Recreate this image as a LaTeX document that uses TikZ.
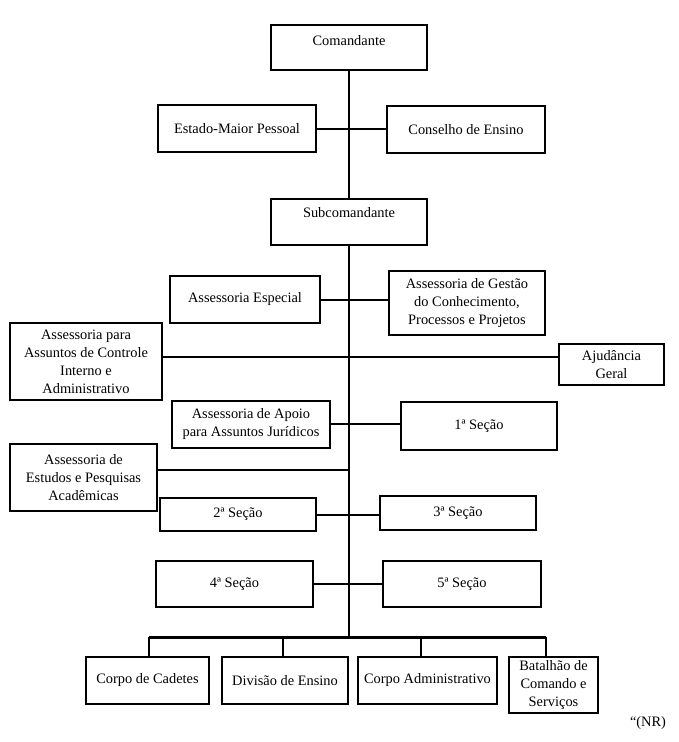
\documentclass[tikz,border=0pt]{standalone}
\usepackage{fontspec}
\setmainfont{Liberation Serif}
\tikzset{
  orgbox/.style={draw, line width=1.8pt, inner sep=1pt, align=center,
    font=\fontsize{14.4}{18}\selectfont},
  trunkline/.style={line width=2.8pt},
  branchline/.style={line width=2.3pt},
  busline/.style={line width=3pt},
  plaintext/.style={inner sep=0pt, font=\fontsize{14.4}{18}\selectfont},
}
\newcommand{\orgbox}[6]{\node[orgbox, minimum width={#4-#2}, minimum height={#5-#3}] (#1) at ({(#2+#4)/2},{(#3+#5)/2}) {#6};}
\begin{document}
\begin{tikzpicture}[x=1pt, y=-1pt]
\useasboundingbox (0,0) rectangle (679,742);
% boxes
\orgbox{cmd}{271}{25}{427}{70}{Comandante\\[-9pt] \strut}
\orgbox{emp}{158}{105}{316}{152}{Estado-Maior Pessoal}
\orgbox{ce}{387}{106}{545}{153}{Conselho de Ensino}
\orgbox{sub}{271}{199}{427}{245}{Subcomandante\\[-4pt] \strut}
\orgbox{ae}{170}{276}{320}{323}{Assessoria Especial}
\orgbox{agc}{389}{271}{545}{335}{Assessoria de Gestão\\do Conhecimento,\\Processos e Projetos}
\orgbox{aci}{10}{323}{162}{400}{Assessoria para\\Assuntos de Controle\\Interno e\\Administrativo}
\orgbox{ag}{559}{344}{664}{385}{Ajudância\\Geral}
\orgbox{aaj}{172}{401}{330}{448}{Assessoria de Apoio\\para Assuntos Jurídicos}
\orgbox{s1}{401}{402}{557}{450}{1ª Seção}
\orgbox{aep}{10}{444}{157}{511}{Assessoria de\\Estudos e Pesquisas\\Acadêmicas}
\orgbox{s2}{160}{498}{316}{531}{2ª Seção}
\orgbox{s3}{380}{496}{536}{530}{3ª Seção}
\orgbox{s4}{156}{561}{313}{607}{4ª Seção}
\orgbox{s5}{383}{561}{541}{607}{5ª Seção}
\orgbox{ccad}{86}{657}{209}{704}{Corpo de Cadetes}
\orgbox{div}{222}{657}{348}{704}{Divisão de Ensino}
\orgbox{cadm}{358}{657}{497}{704}{Corpo Administrativo}
\orgbox{bat}{509}{657}{598}{713}{Batalhão de\\Comando e\\Serviços}
\node[plaintext] (nr) at (648,723) {“(NR)};
% junctions on the trunk
\coordinate (j1) at (349,129);
\coordinate (j2) at (349,300);
\coordinate (j3) at (349,357);
\coordinate (j4) at (349,424);
\coordinate (j5) at (349,470);
\coordinate (j6) at (349,515);
\coordinate (j7) at (349,584);
\coordinate (bus) at (349,637);
\coordinate (d1) at (149,637);
\coordinate (d2) at (283,637);
\coordinate (d3) at (421,637);
\coordinate (d4) at (546,637);
% trunk
\draw[trunkline] (cmd.south) -- (sub.north);
\draw[trunkline] (sub.south) -- (bus);
% branches
\draw[branchline] (j1 -| emp.east) -- (j1 -| ce.west);
\draw[branchline] (j2 -| ae.east) -- (j2 -| agc.west);
\draw[branchline] (j3 -| aci.east) -- (j3 -| ag.west);
\draw[branchline] (j4 -| aaj.east) -- (j4 -| s1.west);
\draw[branchline] (j5 -| aep.east) -- (j5);
\draw[branchline] (j6 -| s2.east) -- (j6 -| s3.west);
\draw[branchline] (j7 -| s4.east) -- (j7 -| s5.west);
% bottom bus
\draw[busline] (d1) -- (d4);
\draw[branchline] (d1) -- (d1 |- ccad.north);
\draw[branchline] (d2) -- (d2 |- div.north);
\draw[branchline] (d3) -- (d3 |- cadm.north);
\draw[branchline] (d4) -- (d4 |- bat.north);
\end{tikzpicture}
\end{document}
